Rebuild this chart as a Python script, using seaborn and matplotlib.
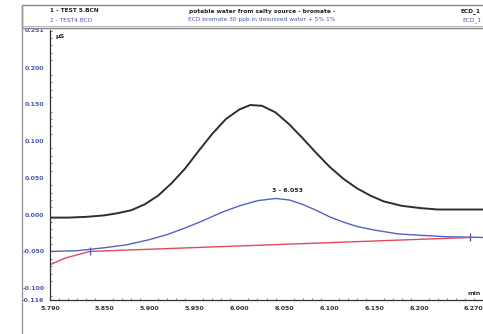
import matplotlib
matplotlib.use("Agg")
import matplotlib.pyplot as plt
import seaborn as sns
import pandas as pd
from matplotlib.ticker import MultipleLocator, FixedLocator, FixedFormatter
from matplotlib.patches import Rectangle
from matplotlib.lines import Line2D

# ---- data ----
black_t = [5.790, 5.810, 5.830, 5.850, 5.865, 5.880, 5.895, 5.910, 5.925, 5.940,
           5.955, 5.970, 5.985, 6.000, 6.012, 6.025, 6.040, 6.055, 6.070, 6.085,
           6.100, 6.115, 6.130, 6.145, 6.160, 6.180, 6.200, 6.220, 6.240, 6.270]
black_v = [-0.004, -0.004, -0.003, -0.001, 0.002, 0.006, 0.014, 0.026, 0.043, 0.063,
           0.087, 0.110, 0.130, 0.143, 0.149, 0.148, 0.139, 0.123, 0.104, 0.084,
           0.065, 0.049, 0.036, 0.026, 0.018, 0.012, 0.009, 0.007, 0.007, 0.007]
blue_t = [5.790, 5.820, 5.850, 5.875, 5.900, 5.920, 5.940, 5.960, 5.980, 6.000,
          6.020, 6.040, 6.055, 6.070, 6.085, 6.100, 6.115, 6.130, 6.150, 6.175,
          6.200, 6.230, 6.270]
blue_v = [-0.050, -0.049, -0.045, -0.041, -0.034, -0.027, -0.018, -0.008, 0.003, 0.012,
          0.019, 0.022, 0.020, 0.014, 0.006, -0.003, -0.010, -0.016, -0.021, -0.026,
          -0.028, -0.030, -0.031]
red_t = [5.790, 5.807, 5.834, 6.256]
red_v = [-0.068, -0.059, -0.050, -0.031]
mark_t = [5.834, 6.256]
mark_v = [-0.049, -0.031]
peak_label = "3 - 6.053"
peak_t, peak_v = 6.053, 0.029
x_ticks = [5.790, 5.850, 5.900, 5.950, 6.000, 6.050, 6.100, 6.150, 6.200, 6.270]
x_labels = ["5.790", "5.850", "5.900", "5.950", "6.000", "6.050", "6.100", "6.150", "6.200", "6.270"]
y_ticks = [-0.116, -0.100, -0.050, 0.000, 0.050, 0.100, 0.150, 0.200, 0.251]
y_labels = ["-0.116", "-0.100", "-0.050", "0.000", "0.050", "0.100", "0.150", "0.200", "0.251"]
header_row1 = ["1 - TEST 5.BCN", "potable water from salty source - bromate -", "ECD_1"]
header_row2 = ["2 - TEST4.BCD", "ECD bromate 30 ppb in deionized water + 5% 1%", "ECD_1"]

sns.set_style("white")
plt.rcParams['font.family'] = ['DejaVu Sans']

fig = plt.figure(figsize=(4.83, 3.34), dpi=100)
ax = fig.add_axes([50/483, 1-300/334, 433/483, 270/334])

df_b = pd.DataFrame({"t": black_t, "v": black_v})
df_u = pd.DataFrame({"t": blue_t, "v": blue_v})
df_r = pd.DataFrame({"t": red_t, "v": red_v})
sns.lineplot(data=df_b, x="t", y="v", ax=ax, color="#2e2e2e", lw=1.4)
sns.lineplot(data=df_u, x="t", y="v", ax=ax, color="#5262c2", lw=1.0)
sns.lineplot(data=df_r, x="t", y="v", ax=ax, color="#e04a5a", lw=1.0)
ax.plot(mark_t, mark_v, linestyle="none", marker="|", ms=6, color="#5262c2", mew=1)
ax.text(peak_t, peak_v, peak_label, fontsize=4.5, fontweight="bold",
        ha="center", va="bottom", color="#222222")

ax.set_xlim(5.790, 6.270)
ax.set_ylim(-0.116, 0.251)
ax.xaxis.set_major_locator(FixedLocator(x_ticks))
ax.xaxis.set_major_formatter(FixedFormatter(x_labels))
ax.xaxis.set_minor_locator(MultipleLocator(0.01))
ax.yaxis.set_major_locator(FixedLocator(y_ticks))
ax.yaxis.set_major_formatter(FixedFormatter(y_labels))
ax.yaxis.set_minor_locator(MultipleLocator(0.01))
ax.tick_params(axis="x", which="major", direction="out", length=3, width=0.8,
               labelsize=4.5, pad=1, colors="#333333")
ax.tick_params(axis="y", which="major", direction="out", length=3, width=0.8,
               labelsize=4.5, pad=1, labelcolor="#4a55b0", color="#333333")
ax.tick_params(which="minor", direction="in", length=1.5, width=0.5, color="#555555",
               bottom=True, left=True)
for lab in ax.get_xticklabels() + ax.get_yticklabels():
    lab.set_fontweight("bold")
xl = ax.get_xticklabels()
xl[-1].set_ha("right")
ax.set_xlabel("")
ax.set_ylabel("")
for s in ["top", "right"]:
    ax.spines[s].set_visible(False)
for s in ["left", "bottom"]:
    ax.spines[s].set_color("#333333")
    ax.spines[s].set_linewidth(0.9)

# units
ax.text(0.012, 0.985, "µS", transform=ax.transAxes, fontsize=4.5, fontweight="bold",
        ha="left", va="top", color="#222222")
fig.text(481/483, 1-296/334, "min", fontsize=4.5, fontweight="bold", ha="right",
         va="bottom", color="#333333")

# frame line at left
fig.add_artist(Line2D([22/483, 22/483], [0, 1-5/334], transform=fig.transFigure,
                      color="#999999", lw=1.0))
# header box
fig.add_artist(Rectangle((22/483, 1-28/334), 1, 23/334, transform=fig.transFigure,
                         fill=False, ec="#888888", lw=1.0))
fig.add_artist(Line2D([22/483, 1], [1-26/334, 1-26/334], transform=fig.transFigure,
                      color="#aaaaaa", lw=0.6))
xs = [50/483, 262/483, 481/483]
has = ["left", "center", "right"]
for txt, x, ha in zip(header_row1, xs, has):
    fig.text(x, 1-11/334, txt, fontsize=4.2, fontweight="bold", ha=ha, va="center",
             color="#222222")
for txt, x, ha in zip(header_row2, xs, has):
    fig.text(x, 1-20/334, txt, fontsize=4.2, ha=ha, va="center", color="#4a55b0")

fig.savefig("out.png", dpi=100)
